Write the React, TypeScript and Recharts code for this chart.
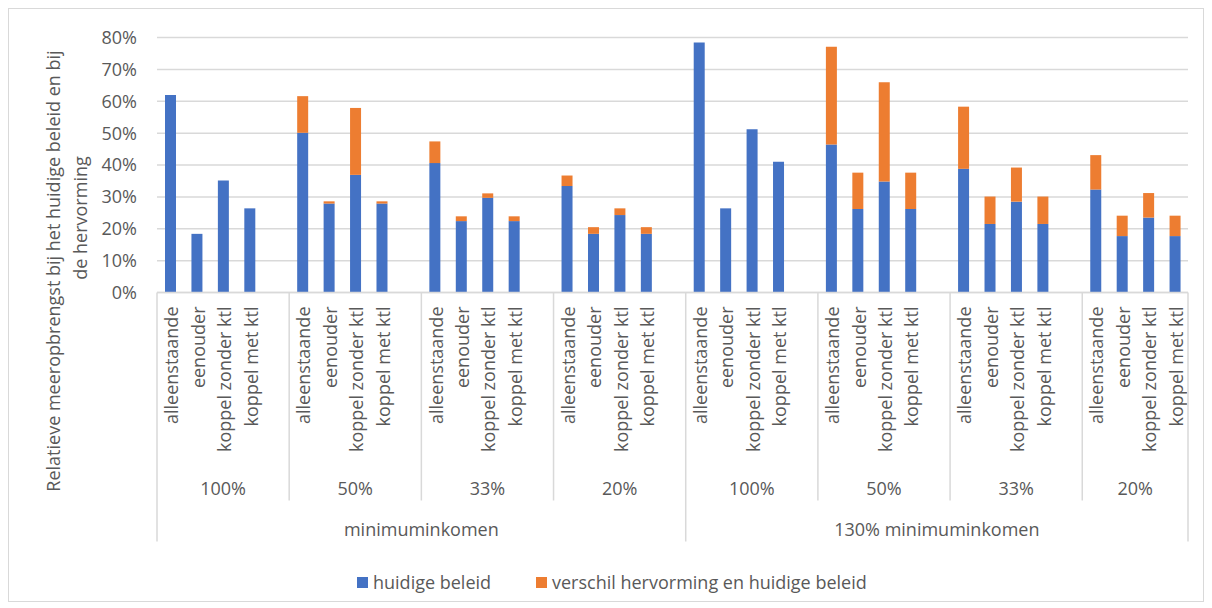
import React from 'react'
import { BarChart, Bar, XAxis, YAxis, CartesianGrid } from 'recharts'

const FONT = '"Open Sans", sans-serif'
const TEXT = '#595959'
const GRID = '#d9d9d9'
const BLUE = '#4472c4'
const ORANGE = '#ed7d31'

// categories
const householdTypes = ['alleenstaande', 'eenouder', 'koppel zonder ktl', 'koppel met ktl']
const shareLabels = ['100%', '50%', '33%', '20%']
const incomeLevels = ['minimuminkomen', '130% minimuminkomen']

// series values, per income level -> share -> household type
const huidigeBeleid = [
  0.620, 0.184, 0.351, 0.264,
  0.501, 0.279, 0.369, 0.279,
  0.406, 0.224, 0.297, 0.224,
  0.334, 0.184, 0.243, 0.184,
  0.784, 0.264, 0.512, 0.410,
  0.464, 0.262, 0.348, 0.262,
  0.388, 0.215, 0.285, 0.215,
  0.323, 0.177, 0.235, 0.177,
]
const verschilHervorming = [
  0, 0, 0, 0,
  0.115, 0.007, 0.210, 0.007,
  0.068, 0.015, 0.014, 0.015,
  0.033, 0.021, 0.021, 0.021,
  0, 0, 0, 0,
  0.307, 0.114, 0.312, 0.114,
  0.195, 0.086, 0.107, 0.086,
  0.108, 0.064, 0.077, 0.064,
]

const yTicks = [0, 0.1, 0.2, 0.3, 0.4, 0.5, 0.6, 0.7, 0.8]

interface Row {
  key: string
  label: string
  huidig: number | null
  verschil: number | null
  groupStart: number // number of slots in the group when this row starts one, else 0
  groupLabel: string
  superStart: number
  superLabel: string
}

// build rows: 4 bars per share group, one empty slot between groups
const rows: Row[] = []
incomeLevels.forEach((inc, ii) => {
  const superFirst = rows.length
  shareLabels.forEach((share, si) => {
    const g = ii * shareLabels.length + si
    const isLast = ii === incomeLevels.length - 1 && si === shareLabels.length - 1
    const first = rows.length
    householdTypes.forEach((ht, hi) => {
      const k = g * householdTypes.length + hi
      rows.push({
        key: `${ii}-${si}-${hi}`,
        label: ht,
        huidig: huidigeBeleid[k],
        verschil: verschilHervorming[k],
        groupStart: 0,
        groupLabel: '',
        superStart: 0,
        superLabel: '',
      })
    })
    if (!isLast) {
      rows.push({
        key: `gap-${g}`,
        label: '',
        huidig: null,
        verschil: null,
        groupStart: 0,
        groupLabel: '',
        superStart: 0,
        superLabel: '',
      })
    }
    rows[first].groupStart = rows.length - first
    rows[first].groupLabel = share
  })
  rows[superFirst].superStart = rows.length - superFirst
  rows[superFirst].superLabel = inc
})

const CHART_W = 1194
const CHART_H = 592
const PLOT_L = 148
const PLOT_R = 1179
const SLOT = (PLOT_R - PLOT_L) / rows.length

const CategoryTick = (props: any) => {
  const { x, y, index } = props
  const row = rows[index]
  if (!row) return null
  const half = SLOT / 2
  const left = x - half
  const els: React.ReactNode[] = []
  if (row.label) {
    els.push(
      <text
        key="l"
        transform={`translate(${x + 1},${y + 14}) rotate(-90)`}
        textAnchor="end"
        dominantBaseline="central"
        fontSize={18}
        fontFamily={FONT}
        fill={TEXT}
      >
        {row.label}
      </text>
    )
  }
  if (row.groupStart) {
    els.push(
      <text
        key="g"
        x={left + (row.groupStart * SLOT) / 2}
        y={y + 195}
        textAnchor="middle"
        dominantBaseline="central"
        fontSize={18}
        fontFamily={FONT}
        fill={TEXT}
      >
        {row.groupLabel}
      </text>
    )
    const long = row.superStart > 0
    els.push(
      <line key="gl" x1={left} x2={left} y1={y} y2={y + (long ? 249 : 208)} stroke={GRID} strokeWidth={1.5} />
    )
  }
  if (row.superStart) {
    els.push(
      <text
        key="s"
        x={left + (row.superStart * SLOT) / 2}
        y={y + 236}
        textAnchor="middle"
        dominantBaseline="central"
        fontSize={18}
        fontFamily={FONT}
        fill={TEXT}
      >
        {row.superLabel}
      </text>
    )
  }
  if (index === rows.length - 1) {
    els.push(
      <line key="end" x1={x + half} x2={x + half} y1={y} y2={y + 249} stroke={GRID} strokeWidth={1.5} />
    )
  }
  return <g>{els}</g>
}

const YTitle = () => (
  <g fontFamily={FONT} fontSize={18} fill={TEXT} style={{ whiteSpace: 'pre' }}>
    <text transform="translate(44,262) rotate(-90)" textAnchor="middle" dominantBaseline="central">
      {'Relatieve meeropbrengst bij het huidige beleid en  bij'}
    </text>
    <text transform="translate(71,209) rotate(-90)" textAnchor="middle" dominantBaseline="central">
      de hervorming
    </text>
  </g>
)

const legendItems = [
  { name: 'huidige beleid', color: BLUE, left: 348 },
  { name: 'verschil hervorming en huidige beleid', color: ORANGE, left: 527 },
]

export default function App() {
  return (
    <div
      style={{
        position: 'relative',
        width: CHART_W + 2,
        height: CHART_H + 2,
        border: `1px solid ${GRID}`,
        boxSizing: 'border-box',
        background: '#fff',
        fontFamily: FONT,
      }}
    >
      <BarChart
        width={CHART_W}
        height={CHART_H}
        data={rows}
        margin={{ top: 28.5, right: CHART_W - PLOT_R, left: 0, bottom: 8.5 }}
        barSize={11}
      >
        <CartesianGrid vertical={false} stroke={GRID} strokeWidth={1.5} />
        <XAxis
          dataKey="key"
          interval={0}
          height={300}
          tickSize={0}
          tickMargin={0}
          tickLine={false}
          axisLine={{ stroke: GRID, strokeWidth: 1.5 }}
          tick={<CategoryTick />}
        />
        <YAxis
          type="number"
          domain={[0, 0.8]}
          ticks={yTicks}
          width={PLOT_L}
          tickSize={0}
          tickMargin={20}
          tickLine={false}
          axisLine={false}
          tickFormatter={(v: number) => `${Math.round(v * 100)}%`}
          tick={{ fontSize: 18, fill: TEXT, fontFamily: FONT }}
          label={<YTitle />}
        />
        <Bar dataKey="huidig" stackId="a" fill={BLUE} isAnimationActive={false} />
        <Bar dataKey="verschil" stackId="a" fill={ORANGE} isAnimationActive={false} />
      </BarChart>
      {legendItems.map((it) => (
        <div
          key={it.name}
          style={{
            position: 'absolute',
            left: it.left,
            top: 561,
            height: 24,
            display: 'flex',
            alignItems: 'center',
            fontSize: 18,
            color: TEXT,
            whiteSpace: 'nowrap',
          }}
        >
          <span style={{ width: 11, height: 11, background: it.color, marginRight: 5, display: 'inline-block' }} />
          {it.name}
        </div>
      ))}
    </div>
  )
}
